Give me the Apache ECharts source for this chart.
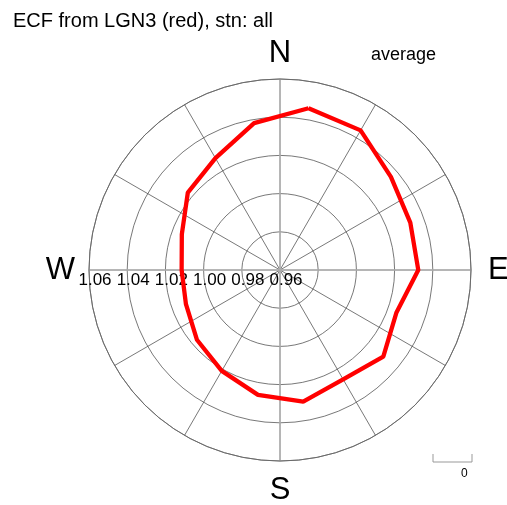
<!DOCTYPE html>
<html><head><meta charset="utf-8">
<script src="https://cdn.jsdelivr.net/npm/echarts@6/dist/echarts.min.js"></script>
<style>html,body{margin:0;padding:0;background:#fff}#c{width:507px;height:505px}</style>
</head><body><div id="c"></div>
<script>
// compass directions (degrees clockwise from north)
const directions = [10, 30, 50, 70, 90, 110, 130, 150, 170, 190, 210, 230, 250, 270, 290, 310, 330, 350];
// ECF average values per direction (red curve)
const ecfValues = [1.0460, 1.0444, 1.0358, 1.0326, 1.0324, 1.0249, 1.0306, 1.0261, 1.0300,
                   1.0264, 1.0210, 1.0168, 1.0124, 1.0115, 1.0147, 1.0230, 1.0276, 1.0381];
const radiusMin = 0.96, radiusMax = 1.06, radiusStep = 0.02;
const compassLabels = {0: 'N', 90: 'E', 180: 'S', 270: 'W'};
const titleText = 'ECF from LGN3 (red), stn: all';
const subLabel = 'average';
const scaleLabel = '0';

const FONT = '"Liberation Sans", Arial, Helvetica, sans-serif';
// axis angle value = compass direction + 90 (axis starts at west, clockwise)
const toAxis = d => (d + 90) % 360;
const lineData = directions.map((d, i) => [ecfValues[i], toAxis(d)]);
lineData.push(lineData[0]);

const center = [280, 270];
const radius = 191;

const chart = echarts.init(document.getElementById('c'), null, {renderer: 'canvas'});
chart.setOption({
  animation: false,
  backgroundColor: '#fff',
  title: {
    text: titleText, left: 13, top: 11, padding: 0,
    textStyle: {fontFamily: FONT, fontSize: 20, fontWeight: 'normal', color: '#000'}
  },
  polar: [
    {center: center, radius: radius},
    {center: center, radius: radius}
  ],
  angleAxis: [
    {
      polarIndex: 0, type: 'value', min: 0, max: 360, interval: 30,
      startAngle: 180, clockwise: true,
      axisLine: {show: true, lineStyle: {color: '#666', width: 0.8}},
      axisTick: {show: false}, axisLabel: {show: false},
      splitLine: {show: true, lineStyle: {color: '#555', width: 0.8}}
    },
    {
      polarIndex: 1, type: 'value', min: 0, max: 360, interval: 90,
      startAngle: 180, clockwise: true,
      axisLine: {show: false}, axisTick: {show: false},
      axisLabel: {
        show: true, margin: 14, fontFamily: FONT, fontSize: 31, color: '#000',
        formatter: v => {
          const t = compassLabels[(v + 270) % 360] || '';
          if (t === 'N') return '{n|N}';
          if (t === 'E') return '{e|E}';
          return t;
        },
        rich: {
          n: {fontFamily: FONT, fontSize: 31, color: '#000', lineHeight: 23},
          e: {fontFamily: FONT, fontSize: 31, color: '#000', padding: [0, 0, 0, 3]}
        }
      },
      splitLine: {show: true, lineStyle: {color: '#b4b4b4', width: 1.5}}
    }
  ],
  radiusAxis: [
    {
      polarIndex: 0, type: 'value', min: radiusMin, max: radiusMax, interval: radiusStep,
      axisLine: {show: false}, axisTick: {show: false},
      axisLabel: {
        show: true, margin: 2, fontFamily: FONT, fontSize: 17, color: '#000',
        padding: [0, 0, 0, 12],
        formatter: v => v.toFixed(2)
      },
      splitLine: {show: true, lineStyle: {color: '#555', width: 0.8}}
    },
    {
      polarIndex: 1, type: 'value', min: radiusMin, max: radiusMax, interval: radiusStep,
      axisLine: {show: false}, axisTick: {show: false}, axisLabel: {show: false},
      splitLine: {show: false}
    }
  ],
  series: [{
    type: 'line', coordinateSystem: 'polar', polarIndex: 0,
    data: lineData, symbol: 'none', smooth: false, z: 5,
    lineStyle: {color: '#ff0000', width: 4.3}
  }],
  graphic: [
    {type: 'text', left: 371, top: 46,
     style: {text: subLabel, font: '18px ' + FONT, fill: '#000'}},
    {type: 'polyline', shape: {points: [[433, 454], [433, 462], [472, 462], [472, 454]]},
     style: {stroke: '#999', lineWidth: 1, fill: null}},
    {type: 'text', left: 461, top: 468,
     style: {text: scaleLabel, font: '12px ' + FONT, fill: '#000'}}
  ]
});
</script>
</body></html>
